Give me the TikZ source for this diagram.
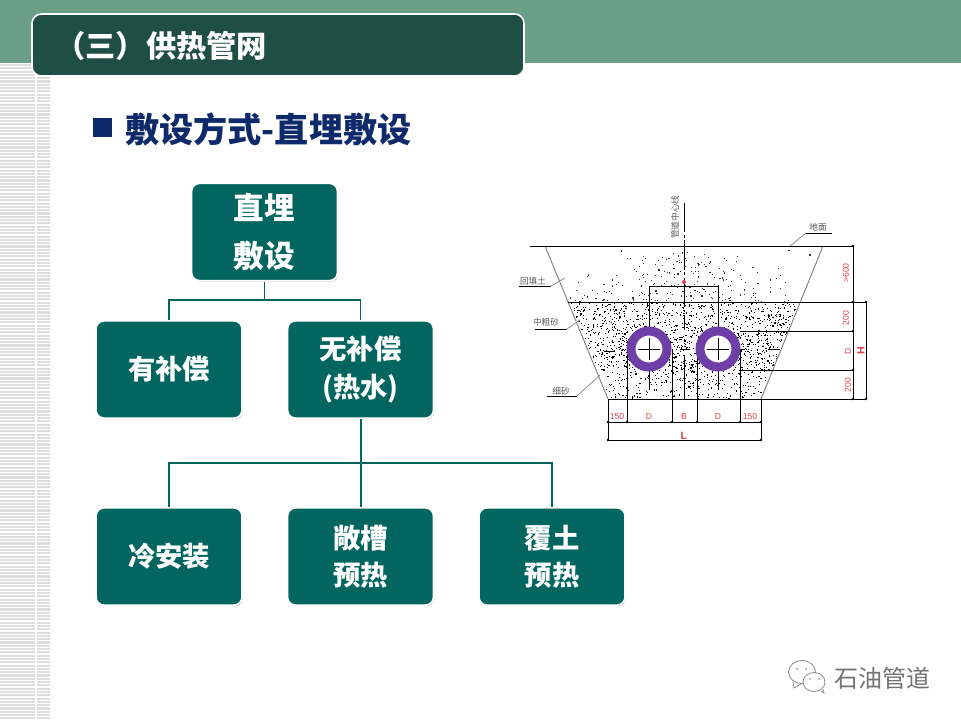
\documentclass[tikz,border=0pt]{standalone}
\usepackage{fontspec}
\setmainfont{Noto Sans CJK SC}
\newfontfamily\latinf{Liberation Sans}
\usetikzlibrary{shadows}
\definecolor{band}{HTML}{6A9E87}
\definecolor{headbox}{HTML}{1F4E45}
\definecolor{teal}{HTML}{02655F}
\definecolor{navy}{HTML}{0F2A6B}
\definecolor{ringc}{HTML}{6F3FA8}
\definecolor{dimred}{HTML}{E0404A}
\definecolor{stripe}{HTML}{DEDEDE}
\tikzset{
  x=0.75pt,y=-0.75pt,
  flowbox/.style={draw=white,line width=1.3pt,fill=teal,rounded corners=6pt,text=white,
    font=\bfseries\fontsize{20.5pt}{28pt}\selectfont,align=center,inner sep=0pt,
    minimum width=109.5pt,minimum height=73pt,
    drop shadow={shadow xshift=0.5pt,shadow yshift=-0.8pt,fill=black,opacity=0.35}},
  conn/.style={draw=teal,line width=0.9pt},
  connb/.style={draw=teal,line width=1.5pt},
  cad/.style={black,line width=0.7pt},
  lead/.style={gray,line width=0.5pt},
  redlab/.style={text=dimred,font=\latinf\fontsize{6.5pt}{7pt}\selectfont,inner sep=0pt},
  redbig/.style={text=dimred,font=\latinf\bfseries\fontsize{8pt}{9pt}\selectfont,inner sep=0pt},
  graylab/.style={text=black!65,font=\fontsize{6.5pt}{7pt}\selectfont,inner sep=0pt},
  ring/.style={draw=ringc,line width=6.75pt,fill=white,circle,minimum size=27pt,inner sep=0pt},
}
\begin{document}
\begin{tikzpicture}
\useasboundingbox (0,0) rectangle (961,721);
\fill[white] (0,0) rectangle (961,721);
% side stripes
\foreach \i in {0,...,198}{
  \pgfmathsetmacro{\yy}{65+3.3*\i}
  \draw[stripe,line width=1.6pt] (0,\yy) -- (35,\yy);
  \pgfmathparse{\yy>=78?1:0}
  \ifnum\pgfmathresult=1 \draw[stripe,line width=1.6pt] (36.5,\yy) -- (50,\yy);\fi
}
% top band
\fill[band] (0,0) rectangle (961,63);
\node[draw=white,line width=1.2pt,fill=headbox,rounded corners=7pt,minimum width=369pt,minimum height=46.5pt,inner sep=0pt] (header) at (278,45) {};
\node[text=white,font=\bfseries\fontsize{22.7pt}{25pt}\selectfont,anchor=west,inner sep=0pt] (headtext) at (55,46) {\makebox[22.7pt]{（}\makebox[22.7pt]{三}\makebox[22.7pt]{）}供热管网};
% title
\fill[navy] (93,118) rectangle (112,137);
\node[text=navy,font=\bfseries\fontsize{25.6pt}{28pt}\selectfont,anchor=west,inner sep=0pt] (title) at (125,129) {敷设方式-直埋敷设};
% flow chart
\node[flowbox,font=\bfseries\fontsize{23pt}{36pt}\selectfont] (root) at (264.5,232) {直埋\\敷设};
\node[flowbox] (a) at (169,369.5) {有补偿};
\node[flowbox] (b) at (360.5,369.5) {无补偿\\(热水)};
\node[flowbox] (c) at (169,556.5) {冷安装};
\node[flowbox] (d) at (360.5,556.5) {敞槽\\预热};
\node[flowbox] (e) at (552,556.5) {覆土\\预热};
\coordinate (j1) at (264.5,300);
\coordinate (j2) at (360.5,463);
\draw[conn] (root.south) -- (j1);
\draw[conn] (a.north) |- (j1) -| (b.north);
\draw[connb] (b.south) -- (d.north);
\draw[connb] (c.north) |- (j2) -| (e.north);
% sand dots
\pgfmathsetseed{4217}
\foreach \i in {1,...,1350}{
  \pgfmathsetmacro{\yy}{302+68*rnd}
  \pgfmathsetmacro{\t}{(\yy-246)/153}
  \pgfmathsetmacro{\xl}{545+63*\t+2}
  \pgfmathsetmacro{\xr}{823-62*\t-2}
  \pgfmathsetmacro{\xx}{\xl+(\xr-\xl)*rnd}
  \fill (\xx,\yy) rectangle +(1.1,1.1);
}
\foreach \i in {1,...,260}{
  \pgfmathsetmacro{\yy}{370+28*rnd}
  \pgfmathsetmacro{\t}{(\yy-246)/153}
  \pgfmathsetmacro{\xl}{545+63*\t+2}
  \pgfmathsetmacro{\xr}{823-62*\t-2}
  \pgfmathsetmacro{\xx}{\xl+(\xr-\xl)*rnd}
  \fill (\xx,\yy) rectangle +(1.1,1.1);
}
\foreach \i in {1,...,520}{
  \pgfmathsetmacro{\yy}{250+52*rnd}
  \pgfmathsetmacro{\t}{(\yy-246)/153}
  \pgfmathsetmacro{\xl}{545+63*\t+2}
  \pgfmathsetmacro{\xr}{823-62*\t-2}
  \pgfmathsetmacro{\xx}{\xl+(\xr-\xl)*rnd}
  \pgfmathsetmacro{\dens}{0.12+0.88*max(0,1-abs(\xx-680)/(25+2.2*(\yy-246)))}
  \pgfmathparse{rnd<\dens?1:0}
  \ifnum\pgfmathresult=1 \fill[black!80] (\xx,\yy) rectangle +(1.1,1.1);\fi
}
% trench outline
\coordinate (tl) at (545,246);
\coordinate (tr) at (823,246);
\coordinate (bl) at (608,399);
\coordinate (br) at (761,399);
\draw[lead,line width=0.7pt] (tl) -- (bl);
\draw[lead,line width=0.7pt] (tr) -- (br);
% level lines
\draw[cad] (530,246) -- (853,246);
\draw[cad] (568,302) -- (866,302);
\draw[cad] (740,331) -- (853,331);
\draw[cad] (740,370) -- (853,370);
\draw[cad] (608,399) -- (866,399);
\draw[cad] (853,246) -- (853,399);
\draw[cad] (866,302) -- (866,399);
% bottom dimensions
\draw[cad] (608,399) -- (608,440);
\draw[cad] (761,399) -- (761,440);
\draw[cad] (608,422) -- (761,422);
\draw[cad] (608,440) -- (761,440);
\draw[cad] (627,349) -- (627,422);
\draw[cad] (672,349) -- (672,422);
\draw[cad] (697,349) -- (697,422);
\draw[cad] (740,349) -- (740,422);
% ticks at dimension ends
\foreach \px/\py in {608/422,627/422,672/422,697/422,740/422,761/422,608/440,761/440,853/246,853/302,866/302,853/331,853/370,853/399,866/399}
  \fill (\px,\py) circle (1.4);
% centre lines
\draw[cad] (649,286) -- (718,286);
\draw[cad] (649,286) -- (649,390);
\draw[cad] (718,286) -- (718,390);
\draw[cad,dash pattern=on 22pt off 2pt on 2pt off 2pt] (684,203) -- (684,330);
\draw[cad] (684,355) -- (684,399);
\draw[cad] (680,349) -- (690,349);
\draw[cad] (604,351) -- (615,351);
\draw[cad] (740,349) -- (745,349);
\draw[cad] (768,349) -- (780,349);
\fill[dimred] (684,282) circle (2);
% pipes
\node[ring] (p1) at (649,349) {};
\node[ring] (p2) at (718,349) {};
\draw[cad] (p1.center) ++(-11,0) -- ++(22,0);
\draw[cad] (p1.center) ++(0,-11) -- ++(0,22);
\draw[cad] (p2.center) ++(-11,0) -- ++(22,0);
\draw[cad] (p2.center) ++(0,-11) -- ++(0,22);
% leaders
\coordinate (l1a) at (519,286); \coordinate (l1b) at (551,286); \coordinate (l1c) at (565,278);
\coordinate (l2a) at (535,329); \coordinate (l2b) at (567,329); \coordinate (l2c) at (580,320);
\coordinate (l3a) at (547,396); \coordinate (l3b) at (577,396); \coordinate (l3c) at (600,375);
\coordinate (l4a) at (832,233); \coordinate (l4b) at (806,233); \coordinate (l4c) at (790,246);
\draw[cad] (l1a) -- (l1b); \draw[lead] (l1b) -- (l1c);
\draw[cad] (l2a) -- (l2b); \draw[lead] (l2b) -- (l2c);
\draw[cad] (l3a) -- (l3b); \draw[lead] (l3b) -- (l3c);
\draw[cad] (l4a) -- (l4b); \draw[lead] (l4b) -- (l4c);
% grey labels
\node[graylab] (t1) at (533,281) {回填土};
\node[graylab] (t2) at (546,322) {中粗砂};
\node[graylab] (t3) at (561,391) {细砂};
\node[graylab] (t4) at (818,227) {地面};
\node[graylab,rotate=90] (t5) at (675,217) {管道中心线};
% red labels
\node[redlab,rotate=90] (r1) at (846,273) {>600};
\node[redlab,rotate=90] (r2) at (846,318) {200};
\node[redlab,rotate=90] (r3) at (848,351) {D};
\node[redlab,rotate=90] (r4) at (848,385) {200};
\node[redbig,rotate=90] (r5) at (861,351) {H};
\node[redlab] (r6) at (617,417) {150};
\node[redlab] (r7) at (649,417) {D};
\node[redlab] (r8) at (684,417) {B};
\node[redlab] (r9) at (718,417) {D};
\node[redlab] (r10) at (750,417) {150};
\node[redbig] (r11) at (684,436) {L};
% watermark
\begin{scope}[draw=black!45,line width=0.6pt,fill=white]
\draw (802,672) ellipse (13.5 and 11.5);
\draw (793,682) -- (794,688) -- (801,684);
\filldraw (814,682) ellipse (11 and 9.5);
\draw (821,691) -- (824,693) -- (823,689);
\fill[black!45] (797,669) circle (1) (806,669) circle (1) (810,679) circle (0.9) (819,679) circle (0.9);
\end{scope}
\node[text=black!55,font=\fontsize{18pt}{20pt}\selectfont,anchor=west,inner sep=0pt] (mark) at (834,678) {石油管道};
\end{tikzpicture}
\end{document}
